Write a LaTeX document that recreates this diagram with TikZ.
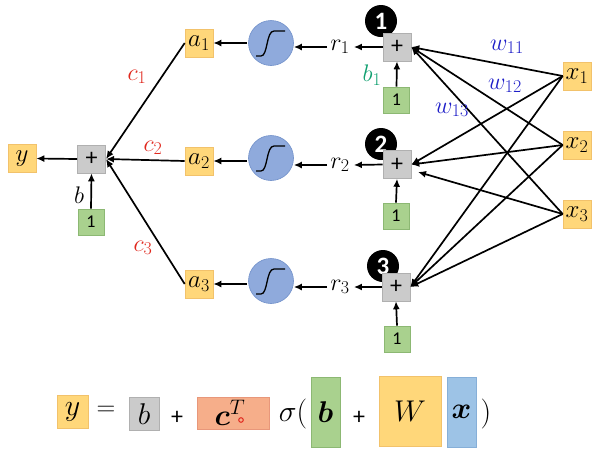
\RequirePackage{fix-cm}
\documentclass[tikz,border=0pt]{standalone}
\usepackage{amsmath,amssymb,bm}
\usepackage{fontspec}
\newfontfamily\carl{Carlito}
\usetikzlibrary{arrows.meta}
\DeclareMathSizes{24}{24}{18}{14}
\DeclareMathSizes{25}{25}{18}{14}
\DeclareMathSizes{26}{26}{19}{14}
\DeclareMathSizes{30}{30}{21}{16}
\definecolor{ylw}{HTML}{FFD77A}
\definecolor{ylwE}{HTML}{F2C26B}
\definecolor{gry}{HTML}{CBCBCB}
\definecolor{gryE}{HTML}{B0B0B0}
\definecolor{grn}{HTML}{A9D18E}
\definecolor{grnE}{HTML}{8CB873}
\definecolor{blu}{HTML}{8FAADC}
\definecolor{bluE}{HTML}{6F8FC9}
\definecolor{org}{HTML}{F6AE8A}
\definecolor{orgE}{HTML}{E8977A}
\definecolor{lblu}{HTML}{9DC3E6}
\definecolor{lbluE}{HTML}{86AFD8}
\definecolor{cred}{HTML}{E0281E}
\definecolor{wblu}{HTML}{1E1EC8}
\definecolor{bgrn}{HTML}{10A070}
\tikzset{
  lab/.style={font=\fontsize{24}{26}\selectfont, inner sep=0pt},
  ybox/.style={fill=ylw, draw=ylwE, line width=0.6pt, minimum size=28pt, inner sep=0pt, font=\fontsize{25}{28}\selectfont},
  pbox/.style={fill=gry, draw=gryE, line width=0.6pt, minimum size=28pt, inner sep=0pt, font=\carl\fontsize{24}{26}\selectfont},
  gbox/.style={fill=grn, draw=grnE, line width=0.6pt, minimum size=26pt, inner sep=0pt, font=\carl\fontsize{18}{20}\selectfont},
  sig/.style={circle, fill=blu, draw=bluE, line width=0.6pt, minimum size=45pt, inner sep=0pt},
  badge/.style={circle, fill=black, minimum size=32pt, inner sep=0pt, text=white, font=\carl\bfseries\fontsize{25}{27}\selectfont},
  arr/.style={-{Latex[length=8pt,width=7pt]}, line width=1.7pt},
  eq/.style={font=\fontsize{30}{33}\selectfont, inner sep=0pt},
}
\begin{document}
\begin{tikzpicture}[x=1pt,y=-1pt]
\useasboundingbox (0,0) rectangle (598,451);
% left part
\node[ybox] (y) at (22,158.5) {$y$};
\node[pbox] (pl) at (91.5,159) {+};
\node[gbox] (ol) at (91,222) {1};
\coordinate (pin) at (106,159);
\foreach \i/\ya/\ys in {1/43/43,2/161/158,3/284/281}{
  \node[ybox] (a\i) at (199,\ya) {$a_\i$};
  \node[sig] (s\i) at (271,\ys) {};
  \draw[line width=1.3pt] ([shift={(-15,13)}]s\i.center) -- ([shift={(-10,13)}]s\i.center) .. controls ([shift={(-3,13)}]s\i.center) and ([shift={(-5,-12)}]s\i.center) .. ([shift={(3,-12)}]s\i.center) -- ([shift={(14,-12)}]s\i.center);
}
\node[lab] (r1) at (340,47) {$r_1$};
\node[lab] (r2) at (340,165) {$r_2$};
\node[lab] (r3) at (340,287) {$r_3$};
\node[badge] (n1) at (381,21) {1};
\node[badge] (n2) at (381,144) {2};
\node[badge] (n3) at (383,266) {3};
\node[pbox] (p1) at (397,47) {+};
\node[pbox] (p2) at (397,164.5) {+};
\node[pbox] (p3) at (396,287) {+};
\node[gbox] (g1) at (396.5,100) {1};
\node[gbox] (g2) at (396,216) {1};
\node[gbox] (g3) at (397,339) {1};
\node[ybox] (x1) at (577,76) {$x_1$};
\node[ybox] (x2) at (577,145) {$x_2$};
\node[ybox] (x3) at (577,214) {$x_3$};
\coordinate (p2b) at (418,172);
% arrows
\draw[arr] (pl.west) -- (y.east);
\draw[arr] (ol.north) -- (pl.south);
\foreach \i in {1,2,3}{
  \draw[arr] (a\i.west) -- (pin);
  \draw[arr] (s\i.west |- a\i.east) ++(-1,0) -- (a\i.east);
  \draw[arr] (r\i.west) ++(-3,0) -- (s\i.east |- r\i.west);
  \draw[arr] (p\i.west) -- ([xshift=4pt]r\i.east);
  \draw[arr] (g\i.north) -- (p\i.south);
}
\foreach \j in {1,2,3}{
  \draw[arr] (x\j.west) -- (p1.east);
  \draw[arr] (x\j.west) -- (p3.east);
}
\draw[arr] (x1.west) -- (p2.east);
\draw[arr] (x2.west) -- (p2.east);
\draw[arr] (x3.west) -- (p2b);
% labels
\node[lab, text=cred] (c1) at (137,77) {$c_1$};
\node[lab, text=cred] (c2) at (153,148) {$c_2$};
\node[lab, text=cred] (c3) at (143,248) {$c_3$};
\node[lab] (bl) at (79,195) {$b$};
\node[lab, text=bgrn] (b1) at (372,75) {$b_1$};
\node[lab, text=wblu] (w11) at (507,47) {$w_{11}$};
\node[lab, text=wblu] (w12) at (505,86) {$w_{12}$};
\node[lab, text=wblu] (w13) at (452,110) {$w_{13}$};
% equation
\node[eq, fill=ylw, draw=ylwE, line width=0.6pt, minimum width=31pt, minimum height=33pt] (ey) at (72.5,411.5) {$y$};
\node[font=\fontsize{26}{28}\selectfont, inner sep=0pt] (eeq) at (106,411) {$=$};
\node[eq, fill=gry, draw=gryE, line width=0.6pt, minimum width=30pt, minimum height=33pt] (eb) at (144,414) {$b$};
\node[font=\carl\fontsize{24}{26}\selectfont, inner sep=0pt] (ep1) at (177,418) {+};
\node[eq, fill=org, draw=orgE, line width=0.6pt, minimum width=72pt, minimum height=32pt] (ec) at (233,413) {$\bm{c}^{T}\hspace{6pt}$};
\draw[cred, line width=1pt] (241,420) circle (2.3pt);
\node[eq] (esig) at (293,414) {$\sigma($};
\node[eq, fill=grn, draw=grnE, line width=0.6pt, minimum width=29pt, minimum height=70pt] (eb2) at (325.5,412) {$\bm{b}$};
\node[font=\carl\fontsize{24}{26}\selectfont, inner sep=0pt] (ep2) at (359,418) {+};
\node[eq, fill=ylw, draw=ylwE, line width=0.6pt, minimum width=62pt, minimum height=70pt] (eW) at (410,411) {$W$};
\node[eq, fill=lblu, draw=lbluE, line width=0.6pt, minimum width=29pt, minimum height=70pt] (ex) at (461.5,412) {$\bm{x}$};
\node[eq] (epar) at (486,414) {$)$};
\end{tikzpicture}
\end{document}
